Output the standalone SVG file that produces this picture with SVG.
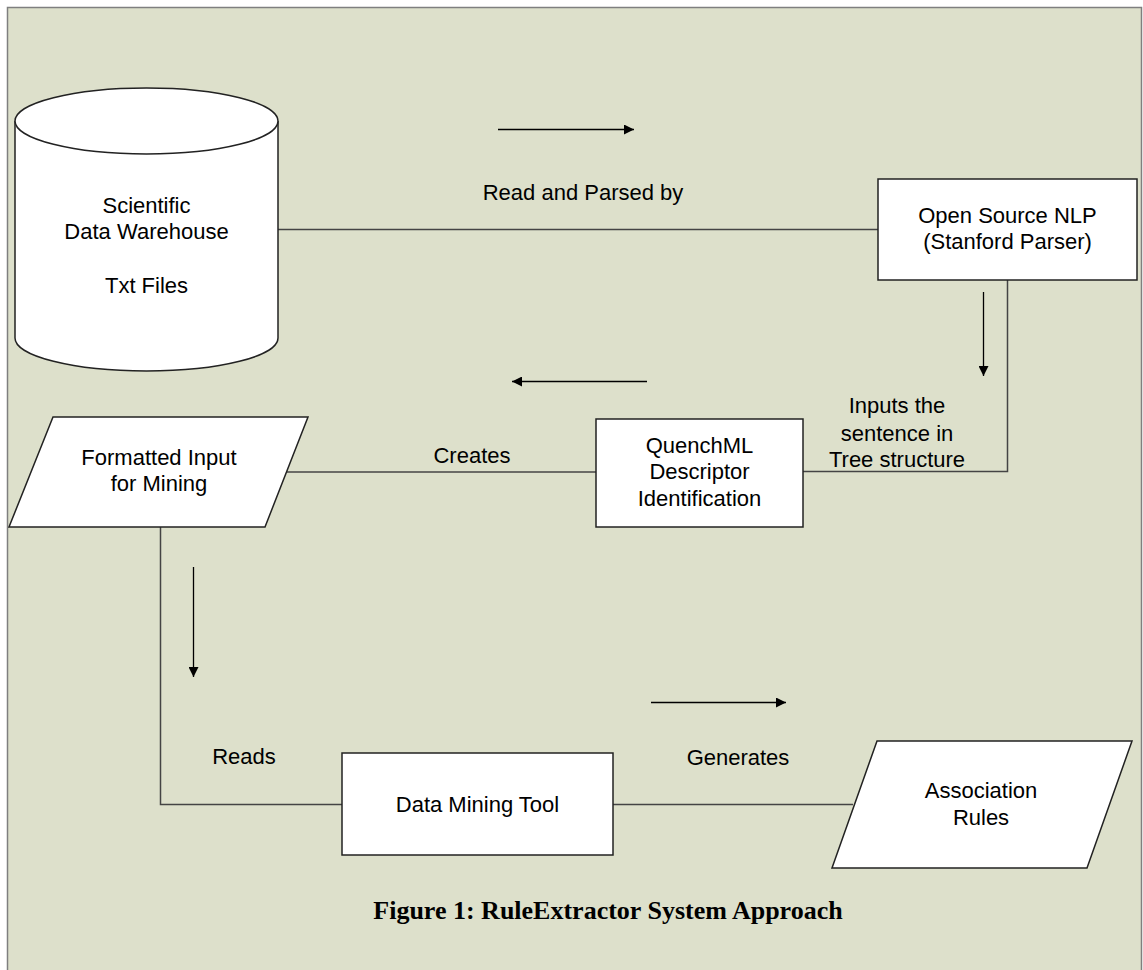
<svg xmlns="http://www.w3.org/2000/svg" width="1143" height="970" viewBox="0 0 1143 970">
<defs>
<marker id="ah" viewBox="0 0 10 10" refX="10" refY="5" markerWidth="10" markerHeight="10" markerUnits="userSpaceOnUse" orient="auto">
<path d="M0,0 L10,5 L0,10 z" fill="#000"/>
</marker>
<style>
.shape{fill:#fff;stroke:#222;stroke-width:1.5}
.conn{fill:none;stroke:#444;stroke-width:1.5}
.arr{fill:none;stroke:#000;stroke-width:1.3;marker-end:url(#ah)}
.t{font-family:"Liberation Sans",Arial,sans-serif;font-size:22px;fill:#000;text-anchor:middle}
.cap{font-family:"Liberation Serif","Times New Roman",serif;font-size:26px;font-weight:bold;fill:#000;text-anchor:middle}
</style>
</defs>
<rect x="0" y="0" width="1143" height="970" fill="#fff"/>
<rect x="7.5" y="7.5" width="1134" height="975" fill="#DDE0CB" stroke="#7f7f7f" stroke-width="1.5"/>
<g id="connectors">
<line class="conn" x1="278" y1="229.5" x2="878" y2="229.5"/>
<polyline class="conn" points="1007.5,280 1007.5,471.5 803,471.5"/>
<line class="conn" x1="286" y1="472" x2="596" y2="472"/>
<polyline class="conn" points="160.5,527 160.5,804.5 342,804.5"/>
<line class="conn" x1="613" y1="804.5" x2="853" y2="804.5"/>
<line class="arr" x1="498" y1="129.5" x2="634" y2="129.5"/>
<line class="arr" x1="983.5" y1="292" x2="983.5" y2="376"/>
<line class="arr" x1="647" y1="381.5" x2="512" y2="381.5"/>
<line class="arr" x1="193.5" y1="567" x2="193.5" y2="677"/>
<line class="arr" x1="651" y1="702.5" x2="786" y2="702.5"/>
</g>
<g id="labels">
<text class="t" x="583" y="200">Read and Parsed by</text>
<text class="t" x="897" y="413">Inputs the</text>
<text class="t" x="897" y="441">sentence in</text>
<text class="t" x="897" y="467">Tree structure</text>
<text class="t" x="472" y="463">Creates</text>
<text class="t" x="244" y="764">Reads</text>
<text class="t" x="738" y="765">Generates</text>
</g>
<g id="warehouse">
<path class="shape" d="M15,121 L15,338 A131.5,33 0 0 0 278,338 L278,121 A131.5,33 0 0 0 15,121 Z"/>
<path class="shape" d="M15,121 A131.5,33 0 0 0 278,121" fill="none"/>
<text class="t" x="146.5" y="213">Scientific</text>
<text class="t" x="146.5" y="239">Data Warehouse</text>
<text class="t" x="146.5" y="293">Txt Files</text>
</g>
<g id="nlp">
<rect class="shape" x="878" y="179" width="259" height="101"/>
<text class="t" x="1007.5" y="223">Open Source NLP</text>
<text class="t" x="1007.5" y="249">(Stanford Parser)</text>
</g>
<g id="formatted">
<polygon class="shape" points="53,417 308,417 265,527 9,527"/>
<text class="t" x="159" y="465">Formatted Input</text>
<text class="t" x="159" y="491">for Mining</text>
</g>
<g id="quenchml">
<rect class="shape" x="596" y="419" width="207" height="108"/>
<text class="t" x="699.5" y="453">QuenchML</text>
<text class="t" x="699.5" y="479">Descriptor</text>
<text class="t" x="699.5" y="506">Identification</text>
</g>
<g id="datamining">
<rect class="shape" x="342" y="753" width="271" height="102"/>
<text class="t" x="477.5" y="812">Data Mining Tool</text>
</g>
<g id="rules">
<polygon class="shape" points="877,741 1132,741 1087,868 832,868"/>
<text class="t" x="981" y="798">Association</text>
<text class="t" x="981" y="825">Rules</text>
</g>
<g id="caption">
<text class="cap" x="608" y="919">Figure 1: RuleExtractor System Approach</text>
</g>
</svg>
